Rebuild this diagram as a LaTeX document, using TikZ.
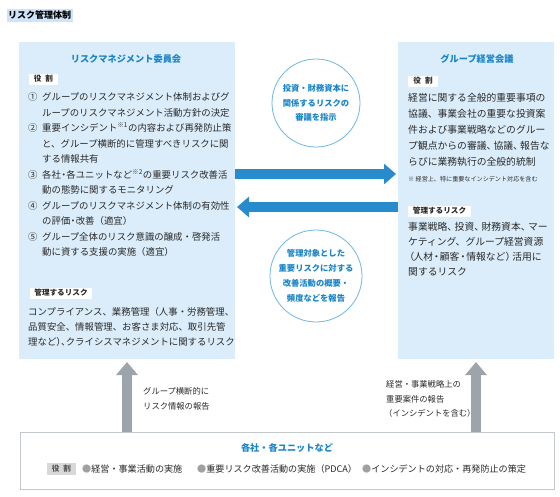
\documentclass[tikz,border=0pt]{standalone}
\usepackage{fontspec}
\setmainfont{Noto Sans CJK JP}
\usetikzlibrary{arrows.meta}
\definecolor{bodytxt}{HTML}{2A2A2A}
\definecolor{titleblue}{HTML}{1B85C8}
\definecolor{arrowblue}{HTML}{288BCD}
\definecolor{circleline}{HTML}{6CB6E4}
\definecolor{grayarr}{HTML}{9CA4AC}
\definecolor{boxblue}{HTML}{DBEDFA}
\definecolor{headbg}{HTML}{CFE4FB}
\definecolor{bottomline}{HTML}{C3C8CC}
\definecolor{bulgray}{HTML}{A0A0A0}
\definecolor{tagbg}{HTML}{D8D8D8}
\begin{document}
\begin{tikzpicture}[x=1pt,y=-1pt,
  bluebox/.style={fill=boxblue, inner sep=0pt, outer sep=0pt, anchor=north west},
  ln/.style={anchor=west, inner sep=0pt, text height=8.3pt, text depth=1.1pt, text=bodytxt, font=\fontsize{9.4}{12}\selectfont},
  lnr/.style={ln, font=\fontsize{9.8}{12}\selectfont},
  lns/.style={ln, font=\fontsize{8.3}{12}\selectfont, text=bodytxt},
  ttl/.style={inner sep=0pt, text=titleblue, font=\fontsize{9.2}{12}\selectfont\bfseries},
  tagw/.style={fill=white, inner sep=0pt, text=bodytxt, minimum height=11pt, font=\fontsize{7.6}{9}\selectfont\bfseries},
  circ/.style={circle, draw=circleline, line width=0.8pt, inner sep=0pt, align=center, text=titleblue, font=\fontsize{8.3}{14.8}\selectfont\bfseries},
  bluearr/.style={draw=arrowblue, line width=10pt, -{Triangle[length=12pt,width=20pt]}},
  grayarrow/.style={draw=grayarr, line width=10pt, -{Triangle[length=13pt,width=21pt]}},
  bul/.style={ln, font=\fontsize{9.1}{12}\selectfont}
]
\useasboundingbox (0,0) rectangle (560,496);
\fill[white] (0,0) rectangle (560,496);

% heading
\node[fill=headbg, inner xsep=1.5pt, inner ysep=2pt, anchor=west, font=\fontsize{9}{11}\selectfont\bfseries] (head) at (6.5,15.5) {リスク管理体制};

% boxes
\node[bluebox, minimum width=216pt, minimum height=317pt] (lbox) at (19,42) {};
\node[bluebox, minimum width=156pt, minimum height=317pt] (rbox) at (398,42) {};
\node[draw=bottomline, line width=1pt, fill=white, inner sep=0pt, anchor=north west, minimum width=534pt, minimum height=57pt] (bbox) at (20,432) {};

% left box
\node[ttl] (ltitle) at (126,59) {リスクマネジメント委員会};
\node[tagw, minimum width=29pt] (lrole) at (43.5,79) {役\hspace{4pt}割};
\node[ln] (n1) at (28,97) {①};
\node[ln] (t1a) at (42,97) {グループのリスクマネジメント体制およびグ};
\node[ln] (t1b) at (42,112.5) {ループのリスクマネジメント活動方針の決定};
\node[ln] (n2) at (28,128) {②};
\node[ln] (t2a) at (42,128) {重要インシデント\textsuperscript{※1}の内容および再発防止策};
\node[ln] (t2b) at (42,143.5) {と、グループ横断的に管理すべきリスクに関};
\node[ln] (t2c) at (42,159) {する情報共有};
\node[ln] (n3) at (28,174.5) {③};
\node[ln] (t3a) at (42,174.5) {各社\kern-2pt・\kern-2pt各ユニットなど\textsuperscript{※2}の重要リスク改善活};
\node[ln] (t3b) at (42,190) {動の態勢に関するモニタリング};
\node[ln] (n4) at (28,205.5) {④};
\node[ln] (t4a) at (42,205.5) {グループのリスクマネジメント体制の有効性};
\node[ln] (t4b) at (42,221) {の評価\kern-2pt・\kern-2pt改善（適宜）};
\node[ln] (n5) at (28,236.5) {⑤};
\node[ln] (t5a) at (42,236.5) {グループ全体のリスク意識の醸成・啓発活};
\node[ln] (t5b) at (42,252) {動に資する支援の実施（適宜）};
\node[tagw, minimum width=62pt] (lrisk) at (61,293) {管理するリスク};
\node[ln] (r1) at (28,312) {コンプライアンス、業務管理（人事・労務管理、};
\node[ln] (r2) at (28,327) {品質安全、情報管理、お客さま対応、取引先管};
\node[ln] (r3) at (28,342) {理など）\kern-4.7pt、\kern-4.7pt クライシスマネジメントに関するリスク};

% right box
\node[ttl] (rtitle) at (477,59) {グループ経営会議};
\node[tagw, minimum width=30pt] (rrole) at (423,81) {役\hspace{4pt}割};
\node[lnr] (s1) at (408,98) {経営に関する全般的重要事項の};
\node[lnr] (s2) at (408,114) {協議、事業会社の重要な投資案};
\node[lnr] (s3) at (408,130) {件および事業戦略などのグルー};
\node[lnr] (s4) at (408,146) {プ観点からの審議、\kern-2.8pt協議、\kern-2.8pt報告な};
\node[lnr] (s5) at (408,162) {らびに業務執行の全般的統制};
\node[ln, font=\fontsize{6.1}{8}\selectfont] (snote) at (408,177.5) {※ 経営上、特に重要なインシデント対応を含む};
\node[tagw, minimum width=63pt] (rrisk) at (439.5,211) {管理するリスク};
\node[lnr] (u1) at (408,227) {事業戦略、\kern-2.5pt投資、\kern-2.5pt財務資本、\kern-2.5ptマー};
\node[lnr] (u2) at (408,242) {ケティング、グループ経営資源};
\node[lnr] (u3) at (408,257) {\kern-3.5pt（\kern-1pt人材\kern-1.5pt・\kern-1.5pt顧客\kern-1.5pt・\kern-1.5pt情報など）\kern-3pt活用に};
\node[lnr] (u4) at (408,272) {関するリスク};

% circles
\node[circ, minimum size=88pt] (c1) at (316,103) {投資・財務資本に\\関係するリスクの\\審議を指示};
\node[circ, minimum size=92pt] (c2) at (316,276) {管理対象とした\\重要リスクに対する\\改善活動の概要・\\頻度などを報告};

% blue arrows
\draw[bluearr, shorten >=2pt] ([yshift=-132pt]lbox.north east) -- ([yshift=-132pt]rbox.north west);
\draw[bluearr, shorten >=2pt] ([yshift=-165pt]rbox.north west) -- ([yshift=-165pt]lbox.north east);

% gray arrows
\draw[grayarrow, shorten >=3pt] (lbox.south |- bbox.north) -- (lbox.south);
\draw[grayarrow, shorten >=3pt] (rbox.south |- bbox.north) -- (rbox.south);
\node[lns] (g1) at (143,391) {グループ横断的に};
\node[lns] (g2) at (143,405.5) {リスク情報の報告};
\node[lns] (h1) at (386,384) {経営・事業戦略上の};
\node[lns] (h2) at (386,398.5) {重要案件の報告};
\node[lns] (h3) at (384,413) {（インシデントを含む）};

% bottom box
\node[ttl] (btitle) at (287,448) {各社・各ユニットなど};
\node[fill=tagbg, inner sep=0pt, minimum width=29pt, minimum height=12pt, text=bodytxt!80, font=\fontsize{7.6}{9}\selectfont\bfseries] (brole) at (61.5,469) {役\hspace{4pt}割};
\node[bul] (b1) at (82,469) {\textcolor{bulgray}{●}経営・事業活動の実施};
\node[bul] (b2) at (197,469) {\textcolor{bulgray}{●}重要リスク改善活動の実施（PDCA）};
\node[bul] (b3) at (362,469) {\textcolor{bulgray}{●}インシデントの対応・再発防止の策定};
\end{tikzpicture}
\end{document}
